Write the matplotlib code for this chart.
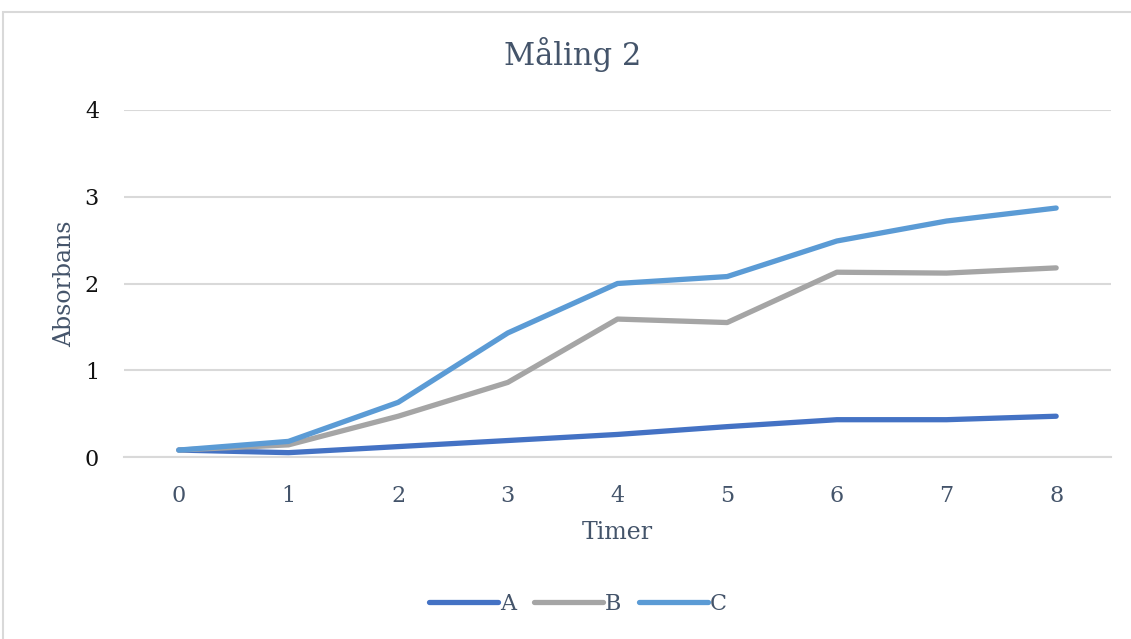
#!/usr/bin/env python3
"""Absorbans over tid for prøve A, B og C (Måling 2)."""

import matplotlib.pyplot as plt
from matplotlib.patches import Rectangle

HOURS = [0, 1, 2, 3, 4, 5, 6, 7, 8]
SERIES_A = [0.08, 0.05, 0.12, 0.19, 0.26, 0.35, 0.43, 0.43, 0.47]
SERIES_B = [0.08, 0.14, 0.47, 0.86, 1.59, 1.55, 2.13, 2.12, 2.18]
SERIES_C = [0.08, 0.18, 0.63, 1.43, 2.00, 2.08, 2.49, 2.72, 2.87]
Y_TICKS = [0, 1, 2, 3, 4]

COLORS = {"A": "#4472C4", "B": "#A5A5A5", "C": "#5B9BD5"}
TEXT = "#44546A"

plt.rcParams["font.family"] = ["DejaVu Serif"]


def main():
    fig = plt.figure(figsize=(11.31, 6.39), dpi=100)
    ax = fig.add_axes([124 / 1131, 1 - 457 / 639, (1111 - 124) / 1131, (457 - 110) / 639])

    for label, vals in (("A", SERIES_A), ("B", SERIES_B), ("C", SERIES_C)):
        ax.plot(HOURS, vals, color=COLORS[label], lw=3.8, label=label,
                solid_capstyle="round", solid_joinstyle="round")

    ax.set_xlim(-0.5, 8.5)
    ax.set_ylim(0, 4)
    ax.set_xticks(HOURS)
    ax.set_yticks(Y_TICKS)
    ax.grid(axis="y", color="#D9D9D9", lw=1.5)
    ax.set_axisbelow(True)
    for side in ("top", "right", "left"):
        ax.spines[side].set_visible(False)
    ax.spines["bottom"].set_color("#D9D9D9")
    ax.spines["bottom"].set_linewidth(1.5)
    ax.tick_params(length=0)
    ax.tick_params(axis="x", labelsize=16, labelcolor=TEXT, pad=20)
    ax.tick_params(axis="y", labelsize=16, labelcolor="#111111", pad=18)

    ax.set_xlabel("Timer", fontsize=17, color=TEXT, labelpad=10)
    ax.set_ylabel("Absorbans", fontsize=17, color=TEXT, labelpad=6)
    fig.text(573 / 1131, 1 - 55 / 639, "Måling 2", ha="center", va="center",
             fontsize=22, color=TEXT)

    fig.legend(loc="center", bbox_to_anchor=(578 / 1131, 1 - 604 / 639), ncol=3,
               frameon=False, fontsize=16, handlelength=3.1, handletextpad=0.1,
               columnspacing=0.8, labelcolor=TEXT)

    fig.patches.append(Rectangle((3 / 1131, -0.05), 1.1, 1 - 12 / 639 + 0.05,
                                 transform=fig.transFigure, fill=False,
                                 edgecolor="#D9D9D9", lw=1.5))

    fig.savefig("out.png", dpi=100)


if __name__ == "__main__":
    main()
